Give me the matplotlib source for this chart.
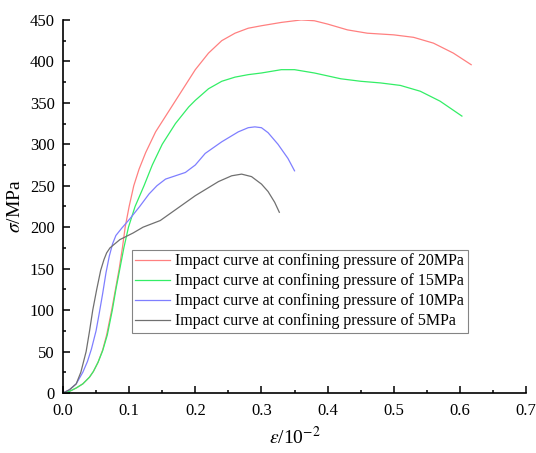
import matplotlib
matplotlib.use("Agg")
from matplotlib import pyplot as plt
from matplotlib.ticker import MultipleLocator

plt.rcParams['font.family'] = ['Liberation Serif', 'DejaVu Serif']
plt.rcParams['mathtext.fontset'] = 'stix'

# strain (10^-2) and stress (MPa)
x_20 = [0, 0.01, 0.02, 0.03, 0.04, 0.046, 0.053, 0.06, 0.066, 0.0736, 0.08, 0.085, 0.09,
        0.094, 0.1, 0.107, 0.115, 0.125, 0.14, 0.16, 0.18, 0.2, 0.22, 0.24, 0.26, 0.28,
        0.3, 0.33, 0.36, 0.38, 0.4, 0.43, 0.46, 0.5, 0.53, 0.56, 0.59, 0.617]
y_20 = [0, 2, 6, 11, 19, 26, 37, 52, 70, 100, 128, 150, 176,
        200, 225, 250, 270, 290, 315, 340, 365, 390, 410, 425, 434, 440,
        443, 447, 450, 449, 445, 438, 434, 432, 429, 422, 410, 396]

x_15 = [0, 0.01, 0.02, 0.03, 0.04, 0.046, 0.053, 0.06, 0.067, 0.0746, 0.08, 0.086, 0.092,
        0.099, 0.109, 0.1225, 0.135, 0.15, 0.17, 0.19, 0.2, 0.22, 0.24, 0.26, 0.28, 0.3,
        0.33, 0.35, 0.38, 0.42, 0.45, 0.48, 0.51, 0.54, 0.57, 0.603]
y_15 = [0, 2, 6, 11, 19, 26, 37, 51, 70, 100, 125, 150, 175,
        200, 225, 250, 275, 300, 325, 345, 353, 367, 376, 381, 384, 386,
        390, 390, 386, 379, 376, 374, 371, 364, 352, 334]

x_10 = [0, 0.01, 0.02, 0.03, 0.037, 0.043, 0.05, 0.055, 0.06, 0.065, 0.07, 0.075, 0.08,
        0.089, 0.101, 0.116, 0.13, 0.142, 0.155, 0.17, 0.185, 0.2, 0.215, 0.24, 0.265,
        0.28, 0.29, 0.3, 0.31, 0.325, 0.34, 0.35]
y_10 = [0, 4, 11, 25, 38, 53, 75, 97, 120, 145, 165, 180, 190,
        199, 210, 225, 240, 250, 258, 262, 266, 275, 289, 303, 315,
        320, 321, 320, 314, 300, 283, 268]

x_5 = [0, 0.01, 0.02, 0.027, 0.035, 0.04, 0.045, 0.051, 0.057, 0.062, 0.066, 0.071, 0.086,
       0.106, 0.121, 0.147, 0.17, 0.2, 0.235, 0.255, 0.27, 0.285, 0.3, 0.31, 0.32, 0.327]
y_5 = [0, 4, 11, 25, 50, 74, 100, 125, 148, 161, 169, 175, 185,
       193, 200, 208, 221, 238, 255, 262, 264, 261, 252, 243, 230, 218]

labels = ['Impact curve at confining pressure of 20MPa',
          'Impact curve at confining pressure of 15MPa',
          'Impact curve at confining pressure of 10MPa',
          'Impact curve at confining pressure of 5MPa']
colors = ['#ff8080', '#33ee66', '#7f7fff', '#707070']

fig = plt.figure(figsize=(5.36, 4.53), dpi=100)
ax = fig.add_axes([0.1175, 0.1325, 0.864, 0.8235])

series = [(x_20, y_20), (x_15, y_15), (x_10, y_10), (x_5, y_5)]
for (xs, ys), lab, c in zip(series, labels, colors):
    ax.plot(xs, ys, color=c, lw=0.9, label=lab)

ax.set_xlim(0, 0.7)
ax.set_ylim(0, 450)
ax.xaxis.set_major_locator(MultipleLocator(0.1))
ax.xaxis.set_minor_locator(MultipleLocator(0.05))
ax.yaxis.set_major_locator(MultipleLocator(50))
ax.yaxis.set_minor_locator(MultipleLocator(25))
ax.xaxis.set_major_formatter(plt.FuncFormatter(lambda v, p: f'{v:.1f}'))

for s in ['top', 'right']:
    ax.spines[s].set_visible(False)
for s in ['left', 'bottom']:
    ax.spines[s].set_linewidth(1.2)

ax.tick_params(which='both', direction='in', labelsize=12, width=1.1)
ax.tick_params(which='major', length=5)
ax.tick_params(which='minor', length=2.5)
ax.tick_params(axis='x', pad=7)
ax.tick_params(axis='y', pad=6)

ax.set_xlabel(r'$\varepsilon$/10$^{-2}$', fontsize=14, labelpad=5)
ax.set_ylabel(r'$\sigma$/MPa', fontsize=14, labelpad=4)

leg = ax.legend(loc='lower left', bbox_to_anchor=(0.148, 0.162), fontsize=11.5,
                frameon=True, fancybox=False, handlelength=2.2,
                borderpad=0.2, labelspacing=0.25, handletextpad=0.35,
                borderaxespad=0)
leg.get_frame().set_edgecolor('#666666')
leg.get_frame().set_linewidth(0.8)

fig.savefig('out.png', dpi=100)
